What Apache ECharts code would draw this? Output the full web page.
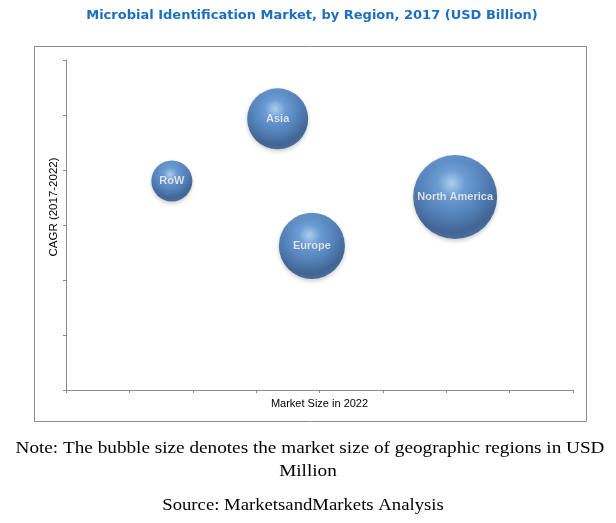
<!DOCTYPE html>
<html>
<head>
<meta charset="utf-8">
<script src="https://cdn.jsdelivr.net/npm/echarts@6/dist/echarts.min.js"></script>
<style>
html,body{margin:0;padding:0;background:#fff;}
#chart{width:616px;height:523px;}
</style>
</head>
<body>
<div id="chart"></div>
<script>
const regions = ['Asia', 'Europe', 'North America', 'RoW'];
const marketSize2022 = [3.34, 3.88, 6.14, 1.67];   // x position
const cagr = [4.93, 2.62, 3.51, 3.80];             // y position
const bubbleSize = [0.93, 1.09, 1.76, 0.42];       // relative market size (bubble)

const chart = echarts.init(document.getElementById('chart'), null, {renderer: 'canvas'});

const sphere = {
  type: 'radial', x: 0.46, y: 0.34, r: 0.66,
  colorStops: [
    {offset: 0, color: '#a6cdf5'},
    {offset: 0.25, color: '#5290d6'},
    {offset: 0.62, color: '#336bb0'},
    {offset: 0.88, color: '#1f4a84'},
    {offset: 1, color: '#285794'}
  ]
};

const data = regions.map((r, i) => ({name: r, value: [marketSize2022[i], cagr[i], bubbleSize[i]]}));

const option = {
  backgroundColor: '#fff',
  animation: false,
  grid: {left: 66, right: 43, top: 60, bottom: 133},
  xAxis: {
    type: 'value', min: 0, max: 8, interval: 1,
    name: 'Market Size in 2022', nameLocation: 'middle', nameGap: 8,
    nameTextStyle: {fontFamily: 'Liberation Sans', fontSize: 11, color: '#000'},
    axisLine: {show: true, lineStyle: {color: '#8c8c8c', width: 1}},
    axisTick: {show: true, length: 3, lineStyle: {color: '#8c8c8c'}},
    axisLabel: {show: false},
    splitLine: {show: false}
  },
  yAxis: {
    type: 'value', min: 0, max: 6, interval: 1,
    axisLine: {show: true, lineStyle: {color: '#8c8c8c', width: 1}},
    axisTick: {show: true, length: 3, lineStyle: {color: '#8c8c8c'}},
    axisLabel: {show: false},
    splitLine: {show: false}
  },
  graphic: [
    {type: 'rect', shape: {x: 34.5, y: 46.5, width: 552, height: 375}, style: {fill: 'none', stroke: '#8c8c8c', lineWidth: 1}, z: -1},
    {type: 'text', x: 312, y: 16,
      style: {text: 'Microbial Identification Market, by Region, 2017 (USD Billion)', font: 'bold 13px "DejaVu Sans"', fill: '#1d6fc0', align: 'center', verticalAlign: 'middle'}},
    {type: 'text', x: 54, y: 207, rotation: Math.PI / 2,
      style: {text: 'CAGR (2017-2022)', font: '11.5px "Liberation Sans"', fill: '#000', align: 'center', verticalAlign: 'middle'}},
    {type: 'text', x: 310, y: 449, scaleX: 1.13,
      style: {text: 'Note: The bubble size denotes the market size of geographic regions in USD', font: '17px "Liberation Serif"', fill: '#000', align: 'center', verticalAlign: 'middle'}},
    {type: 'text', x: 308, y: 472, scaleX: 1.13,
      style: {text: 'Million', font: '17px "Liberation Serif"', fill: '#000', align: 'center', verticalAlign: 'middle'}},
    {type: 'text', x: 303, y: 506, scaleX: 1.1,
      style: {text: 'Source: MarketsandMarkets Analysis', font: '17px "Liberation Serif"', fill: '#000', align: 'center', verticalAlign: 'middle'}}
  ],
  series: [{
    type: 'scatter',
    data: data,
    symbolSize: v => Math.sqrt(v[2]) * 63.3,
    itemStyle: {color: sphere, shadowBlur: 4, shadowColor: 'rgba(0,0,0,0.25)', shadowOffsetY: 2},
    label: {
      show: true, position: 'inside', formatter: p => p.name,
      fontFamily: 'Liberation Sans', fontWeight: 'bold', fontSize: 11, color: '#fff',
      textShadowColor: 'rgba(0,0,0,0.3)', textShadowBlur: 1
    }
  }]
};
chart.setOption(option);
</script>
</body>
</html>
